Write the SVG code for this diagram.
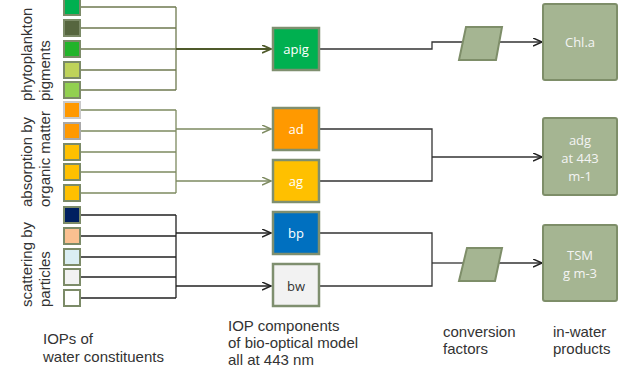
<svg xmlns="http://www.w3.org/2000/svg" width="620" height="372" viewBox="0 0 620 372">
<style>
.sq{stroke:#7c8b68;stroke-width:2}
.sq2{stroke:#c9c9c9;stroke-width:2}
.sq3{stroke:#a8a8a8;stroke-width:2}
.iop{stroke:#7f8f6f;stroke-width:2.5}
.prod{fill:#a5b592;stroke:#7e8e69;stroke-width:2}
.lbl{font-family:"Liberation Sans",Arial,sans-serif;font-size:15px;fill:#333}
.in{font-family:"Open Sans","Noto Sans",sans-serif;font-size:13px;fill:#ffffff;text-anchor:middle}
.pt{font-family:"Open Sans","Noto Sans",sans-serif;font-size:13px;fill:#f4f4f4;text-anchor:middle}
.g1{stroke:#6f7a50;stroke-width:1.3;fill:none}
.g2{stroke:#7d8a60;stroke-width:1.3;fill:none}
.g3{stroke:#222;stroke-width:1.3;fill:none}
.k{stroke:#333;stroke-width:1.3;fill:none}
</style>
<defs>
<marker id="a1" markerUnits="userSpaceOnUse" markerWidth="12" markerHeight="12" refX="9" refY="4.5" orient="auto"><path d="M0,0.5 L9,4.5 L0,8.5" fill="none" stroke="#4f5a2a" stroke-width="1.8"/></marker>
<marker id="a2" markerUnits="userSpaceOnUse" markerWidth="12" markerHeight="12" refX="9" refY="4.5" orient="auto"><path d="M0,0.5 L9,4.5 L0,8.5" fill="none" stroke="#7d8a60" stroke-width="1.5"/></marker>
<marker id="a3" markerUnits="userSpaceOnUse" markerWidth="12" markerHeight="12" refX="9" refY="4.5" orient="auto"><path d="M0,0.5 L9,4.5 L0,8.5" fill="none" stroke="#222" stroke-width="1.5"/></marker>
</defs>

<g id="connectors">
<!-- group 1 -->
<path class="g1" d="M80,7H176M80,28H176M80,49H176M80,70H176M80,90H176M176,7V90"/>
<path d="M176,49H271" stroke="#4f5a2a" stroke-width="2" fill="none" marker-end="url(#a1)"/>
<!-- group 2 -->
<path class="g2" d="M80,110H176M80,131H176M80,152H176M80,172H176M80,193H176M176,110V193"/>
<path class="g2" d="M176,129H271" marker-end="url(#a2)"/>
<path class="g2" d="M176,181H271" marker-end="url(#a2)"/>
<!-- group 3 -->
<path class="g3" d="M80,215H176M80,236H176M80,257H176M80,277H176M80,298H176M176,215V298"/>
<path class="g3" d="M176,233H271" marker-end="url(#a3)"/>
<path class="g3" d="M176,286H271" marker-end="url(#a3)"/>
<!-- right side -->
<path class="k" d="M320,49H432V42H463"/>
<path class="k" d="M499,42H542" marker-end="url(#a3)"/>
<path class="k" d="M320,129H432V181H320"/>
<path class="k" d="M432,157H542" marker-end="url(#a3)"/>
<path class="k" d="M320,233H432V286H320"/>
<path class="k" d="M432,263H463"/>
<path class="k" d="M499,263H542" marker-end="url(#a3)"/>
</g>

<g id="squares">
<rect class="sq" x="64" y="-1" width="16" height="16" fill="#00b050"/>
<rect class="sq" x="64" y="20" width="16" height="16" fill="#56663f"/>
<rect class="sq" x="64" y="41" width="16" height="16" fill="#22b42a"/>
<rect class="sq" x="64" y="62" width="16" height="16" fill="#bfd35a"/>
<rect class="sq" x="64" y="82" width="16" height="16" fill="#92d050"/>
<rect class="sq2" x="64" y="102" width="16" height="16" fill="#ff9900"/>
<rect class="sq3" x="64" y="123" width="16" height="16" fill="#ff9900"/>
<rect class="sq" x="64" y="144" width="16" height="16" fill="#ffc000"/>
<rect class="sq" x="64" y="164" width="16" height="16" fill="#ffc000"/>
<rect class="sq" x="64" y="185" width="16" height="16" fill="#ffc000"/>
<rect class="sq" x="64" y="207" width="16" height="16" fill="#002060"/>
<rect class="sq" x="64" y="228" width="16" height="16" fill="#fac090"/>
<rect class="sq" x="64" y="249" width="16" height="16" fill="#daeef3"/>
<rect class="sq" x="64" y="269" width="16" height="16" fill="#f2f2f2"/>
<rect class="sq" x="64" y="290" width="16" height="16" fill="#ffffff"/>
</g>

<g id="apig"><rect class="iop" x="273" y="28" width="46" height="42" fill="#00b050"/><text class="in" x="296" y="54">apig</text></g>
<g id="ad"><rect class="iop" x="273" y="108" width="46" height="42" fill="#ff9900"/><text class="in" x="296" y="134">ad</text></g>
<g id="ag"><rect class="iop" x="273" y="160" width="46" height="42" fill="#ffc000"/><text class="in" x="296" y="186">ag</text></g>
<g id="bp"><rect class="iop" x="273" y="212" width="46" height="42" fill="#0070c0"/><text class="in" x="296" y="238">bp</text></g>
<g id="bw"><rect class="iop" x="273" y="264" width="46" height="42" fill="#f2f2f2"/><text class="in" x="296" y="291" style="fill:#333">bw</text></g>

<g id="conv1"><polygon class="prod" points="466,27 502,27 496,60 459,60"/></g>
<g id="conv2"><polygon class="prod" points="467,248 502,248 495,281 459,281"/></g>

<g id="chla"><rect class="prod" x="543" y="4" width="74" height="76" rx="2"/><text class="pt" x="580" y="47">Chl.a</text></g>
<g id="adg"><rect class="prod" x="543" y="118" width="74" height="77" rx="2"/><text class="pt" x="580" y="145">adg</text><text class="pt" x="580" y="163">at 443</text><text class="pt" x="580" y="181">m-1</text></g>
<g id="tsm"><rect class="prod" x="543" y="225" width="74" height="76" rx="2"/><text class="pt" x="580" y="260">TSM</text><text class="pt" x="580" y="278">g m-3</text></g>

<g id="side-labels">
<text class="lbl" transform="translate(32,101) rotate(-90)">phytoplankton</text>
<text class="lbl" transform="translate(50,101) rotate(-90)">pigments</text>
<text class="lbl" transform="translate(32,207) rotate(-90)">absorption by</text>
<text class="lbl" transform="translate(50,207) rotate(-90)">organic matter</text>
<text class="lbl" transform="translate(32,307) rotate(-90)">scattering by</text>
<text class="lbl" transform="translate(50,307) rotate(-90)">particles</text>
</g>

<g id="bottom-labels">
<text class="lbl" x="43" y="344">IOPs of</text>
<text class="lbl" x="43" y="362">water constituents</text>
<text class="lbl" x="228" y="331">IOP components</text>
<text class="lbl" x="228" y="348">of bio-optical model</text>
<text class="lbl" x="228" y="365">all at 443 nm</text>
<text class="lbl" x="443" y="337">conversion</text>
<text class="lbl" x="443" y="354">factors</text>
<text class="lbl" x="553" y="337">in-water</text>
<text class="lbl" x="553" y="354">products</text>
</g>
</svg>
